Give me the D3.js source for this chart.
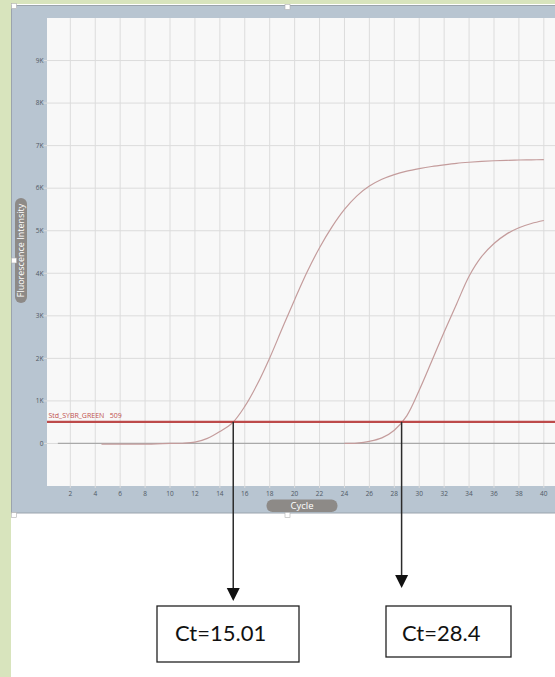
<!DOCTYPE html>
<html>
<head>
<meta charset="utf-8">
<script src="https://cdn.jsdelivr.net/npm/d3@7"></script>
<style>
  body { margin: 0; background: #fff; }
  svg { display: block; font-family: "Open Sans", sans-serif; }
</style>
</head>
<body>
<svg id="chart" width="555" height="677"></svg>
<script>
// amplification curves
var cycles1 = [4.5, 6, 8.5, 10, 11, 12, 13, 14, 15, 16, 17, 18, 19, 20, 21, 22, 23, 24, 25, 26, 27, 28, 29, 30, 31, 32, 33, 34, 35, 36, 37, 38, 39, 40];
var values1 = [-15, -15, -15, 0, 5, 30, 120, 280, 480, 870, 1390, 2010, 2700, 3380, 4030, 4600, 5090, 5500, 5820, 6050, 6210, 6320, 6400, 6460, 6510, 6550, 6585, 6610, 6630, 6645, 6655, 6662, 6667, 6670];
var cycles2 = [24, 25, 26, 27, 28, 29, 30, 31, 32, 33, 34, 35, 36, 37, 38, 39, 40];
var values2 = [0, 10, 50, 130, 310, 650, 1250, 1930, 2620, 3280, 3930, 4390, 4700, 4920, 5070, 5170, 5240];
var baselineCycles = [1, 41.5];
var baselineValues = [0, 0];

var threshold = 509;
var thresholdName = "Std_SYBR_GREEN";
var ctLabels = ["Ct=15.01", "Ct=28.4"];

var xTicks = d3.range(2, 42, 2);
var yTicks = [0, 1000, 2000, 3000, 4000, 5000, 6000, 7000, 8000, 9000];
var yTickLabels = ["0", "1K", "2K", "3K", "4K", "5K", "6K", "7K", "8K", "9K"];

var svg = d3.select("svg");

// page decoration: green margin and the picture frame
svg.append("rect").attr("x", 0).attr("y", 0).attr("width", 555).attr("height", 4).attr("fill", "#d8e4bd");
svg.append("rect").attr("x", 0).attr("y", 0).attr("width", 11).attr("height", 677).attr("fill", "#d8e4bd");
svg.append("rect")
  .attr("x", 11.5).attr("y", 5.5).attr("width", 560).attr("height", 507.5)
  .attr("fill", "#b8c5d1").attr("stroke", "#9ba4ad");

var plot = { left: 47, top: 18, right: 560, bottom: 486 };

var x = d3.scaleLinear().domain([0, 41]).range([45.4, 556.3]);
var y = d3.scaleLinear().domain([-1000, 10000]).range([486, 18]);

svg.append("rect")
  .attr("x", plot.left).attr("y", plot.top)
  .attr("width", plot.right - plot.left).attr("height", plot.bottom - plot.top)
  .attr("fill", "#f8f8f8");

var g = svg.append("g");

// grid
g.selectAll(".vgrid")
  .data(xTicks)
  .enter()
  .append("line")
  .attr("class", "vgrid")
  .attr("x1", function (d) { return x(d); })
  .attr("x2", function (d) { return x(d); })
  .attr("y1", plot.top)
  .attr("y2", plot.bottom + 2)
  .attr("stroke", "#dcdcdc");

g.selectAll(".hgrid")
  .data(yTicks)
  .enter()
  .append("line")
  .attr("class", "hgrid")
  .attr("x1", plot.left - 3)
  .attr("x2", plot.right)
  .attr("y1", function (d) { return y(d); })
  .attr("y2", function (d) { return y(d); })
  .attr("stroke", "#dcdcdc");

// axis labels
g.selectAll(".ylab")
  .data(yTicks)
  .enter()
  .append("text")
  .attr("class", "ylab")
  .attr("x", plot.left - 3.5)
  .attr("y", function (d) { return y(d); })
  .attr("dy", "0.35em")
  .attr("text-anchor", "end")
  .attr("font-size", 6.5)
  .attr("fill", "#4f5864")
  .text(function (d, i) { return yTickLabels[i]; });

g.selectAll(".xlab")
  .data(xTicks)
  .enter()
  .append("text")
  .attr("class", "xlab")
  .attr("x", function (d) { return x(d); })
  .attr("y", plot.bottom + 9.5)
  .attr("text-anchor", "middle")
  .attr("font-size", 6.5)
  .attr("fill", "#4f5864")
  .text(function (d) { return d; });

// axis title pills
svg.append("rect")
  .attr("x", 266.5).attr("y", 499.5).attr("width", 71).attr("height", 12.5)
  .attr("rx", 6).attr("fill", "#8d8a87");
svg.append("text")
  .attr("x", 302).attr("y", 509.3)
  .attr("text-anchor", "middle").attr("font-size", 9.5).attr("fill", "#fff")
  .text("Cycle");

svg.append("rect")
  .attr("x", 15).attr("y", 198).attr("width", 12).attr("height", 105)
  .attr("rx", 6).attr("fill", "#8d8a87");
svg.append("text")
  .attr("transform", "translate(24.3,250.5) rotate(-90)")
  .attr("text-anchor", "middle").attr("font-size", 9).attr("fill", "#fff")
  .text("Fluorescence Intensity");

// curves
var line = d3.line()
  .x(function (d) { return x(d[0]); })
  .y(function (d) { return y(d[1]); })
  .curve(d3.curveCatmullRom.alpha(0.5));

g.append("path")
  .datum(d3.zip(baselineCycles, baselineValues))
  .attr("fill", "none")
  .attr("stroke", "#a9a9a9")
  .attr("stroke-width", 1.2)
  .attr("d", line);

[[cycles1, values1], [cycles2, values2]].forEach(function (s) {
  g.append("path")
    .datum(d3.zip(s[0], s[1]))
    .attr("fill", "none")
    .attr("stroke", "#c49c9c")
    .attr("stroke-width", 1.2)
    .attr("d", line);
});

// threshold
g.append("line")
  .attr("x1", plot.left).attr("x2", plot.right)
  .attr("y1", y(threshold)).attr("y2", y(threshold))
  .attr("stroke", "#bd4a4a").attr("stroke-width", 2.2);
g.append("text")
  .attr("x", plot.left + 1.5).attr("y", y(threshold) - 3.5)
  .attr("font-size", 7).attr("fill", "#c0504d")
  .attr("xml:space", "preserve")
  .text(thresholdName + "   " + threshold);

// crossing point of each curve with the threshold
function crossing(cs, vs) {
  for (var i = 1; i < vs.length; i++) {
    if (vs[i - 1] < threshold && vs[i] >= threshold) {
      return cs[i - 1] + (threshold - vs[i - 1]) / (vs[i] - vs[i - 1]) * (cs[i] - cs[i - 1]);
    }
  }
}
var crossings = [crossing(cycles1, values1), crossing(cycles2, values2)];

// annotations below the frame
var arrowTips = [601, 588];
var boxes = [
  { x: 157, y: 606, w: 142, h: 56, tx: 175 },
  { x: 386, y: 606, w: 125, h: 51, tx: 402 }
];

crossings.forEach(function (c, i) {
  var cx = x(c);
  var tip = arrowTips[i];
  svg.append("line")
    .attr("x1", cx).attr("x2", cx)
    .attr("y1", y(threshold)).attr("y2", tip - 10)
    .attr("stroke", "#2b2b2b").attr("stroke-width", 1.5);
  svg.append("path")
    .attr("d", "M" + (cx - 6.5) + "," + (tip - 13) + "L" + (cx + 6.5) + "," + (tip - 13) + "L" + cx + "," + tip + "Z")
    .attr("fill", "#111");

  var b = boxes[i];
  svg.append("rect")
    .attr("x", b.x).attr("y", b.y).attr("width", b.w).attr("height", b.h)
    .attr("fill", "#fff").attr("stroke", "#222").attr("stroke-width", 1.3);
  svg.append("text")
    .attr("x", b.tx).attr("y", 641)
    .attr("font-family", "Lato, sans-serif")
    .attr("font-size", 22)
    .attr("fill", "#111")
    .text(ctLabels[i]);
});

// selection handles of the picture
var handles = [[14, 6], [287.5, 7], [14, 260.5], [14, 515], [287.5, 515]];
svg.selectAll(".handle")
  .data(handles)
  .enter()
  .append("rect")
  .attr("class", "handle")
  .attr("x", function (d) { return d[0] - 2.5; })
  .attr("y", function (d) { return d[1] - 2.5; })
  .attr("width", 5).attr("height", 5)
  .attr("fill", "#fff").attr("stroke", "#b0b0b0").attr("stroke-width", 0.6);
</script>
</body>
</html>
